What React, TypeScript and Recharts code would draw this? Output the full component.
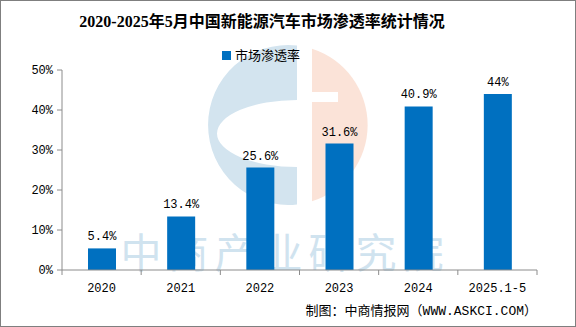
import React from 'react';
import { BarChart, Bar, XAxis, YAxis, Legend, LabelList } from 'recharts';

const categories = ['2020', '2021', '2022', '2023', '2024', '2025.1-5'];
const penetration = [5.4, 13.4, 25.6, 31.6, 40.9, 44];
const valueLabels = ['5.4%', '13.4%', '25.6%', '31.6%', '40.9%', '44%'];
const yTicks = [0, 10, 20, 30, 40, 50];

const data = categories.map((name, i) => ({
  name,
  value: penetration[i],
  label: valueLabels[i],
}));

const MONO = "'Liberation Mono', 'Noto Sans CJK SC', monospace";
const CJK = "'Noto Sans CJK SC', sans-serif";
const AXIS_COLOR = '#8c8c8c';
const BAR_COLOR = '#0070c0';

// category ticks sit between the bars, so draw the tick lines ourselves
const XTick = (props: any) => {
  const { x, y, payload, index, visibleTicksCount } = props;
  const half = payload && payload.offset ? payload.offset : 39.6;
  const axisY = y - 7;
  const last = index === (visibleTicksCount ?? categories.length) - 1;
  return (
    <g>
      <line x1={x - half} x2={x - half} y1={axisY} y2={axisY + 5} stroke={AXIS_COLOR} />
      {last && <line x1={x + half} x2={x + half} y1={axisY} y2={axisY + 5} stroke={AXIS_COLOR} />}
      <text x={x} y={axisY + 22} textAnchor='middle' fontSize={12} fontFamily={MONO} fill='#000'>
        {payload.value}
      </text>
    </g>
  );
};

const LegendBox = () => (
  <div style={{ display: 'flex', justifyContent: 'center', alignItems: 'center', height: 18 }}>
    <span style={{ width: 9, height: 9, background: BAR_COLOR, display: 'inline-block', marginRight: 4 }} />
    <span style={{ fontSize: 13, fontFamily: CJK, color: '#000', lineHeight: '18px' }}>市场渗透率</span>
  </div>
);

const Watermark = () => (
  <svg width={576} height={327} style={{ position: 'absolute', left: 0, top: 0 }}>
    <path d='M297,45.5 A80,80 0 1 0 297,204.5 L297,167 A80,33.5 0 0 1 297,100 Z' fill='#d3e4ef' />
    <path d='M312,48.8 A80,80 0 0 1 312,201.2 Z' fill='#fbe3d8' />
    <rect x={312} y={92} width={26} height={10} fill='#fff' />
    <text x={285} y={268} textAnchor='middle' fontSize={41} letterSpacing={6} fontFamily={CJK} fill='#d0e3ef'>
      中商产业研究院
    </text>
  </svg>
);

export default function App() {
  return (
    <div style={{ position: 'absolute', left: 0, top: 0, width: 576, height: 327, background: '#fff', overflow: 'hidden' }}>
      <Watermark />
      <div
        style={{
          position: 'absolute', top: 10, left: 0, width: 524, textAlign: 'center',
          fontSize: 16, fontWeight: 'bold', lineHeight: '24px', color: '#000',
          fontFamily: "'Liberation Serif', 'Noto Sans CJK SC', serif",
        }}
      >
        2020-2025年5月中国新能源汽车市场渗透率统计情况
      </div>
      <div style={{ position: 'absolute', left: 0, top: 0 }}>
        <BarChart width={576} height={327} data={data} margin={{ top: 52, right: 39, bottom: 27, left: 0 }}>
          <Legend verticalAlign='top' height={18} wrapperStyle={{ top: 46, left: 0, width: 522 }} content={<LegendBox />} />
          <XAxis
            dataKey='name'
            height={30}
            stroke={AXIS_COLOR}
            tickLine={false}
            tickSize={5}
            tickMargin={2}
            tick={<XTick />}
            interval={0}
          />
          <YAxis
            width={62}
            domain={[0, 50]}
            ticks={yTicks}
            tickFormatter={(v: number) => `${v}%`}
            stroke={AXIS_COLOR}
            tickSize={5}
            tickMargin={4}
            tick={{ fontSize: 12, fontFamily: MONO, fill: '#000' }}
          />
          <Bar dataKey='value' fill={BAR_COLOR} barSize={28} isAnimationActive={false}>
            <LabelList dataKey='label' position='top' offset={8} fontSize={12} fontFamily={MONO} fill='#000' />
          </Bar>
        </BarChart>
      </div>
      <div
        style={{
          position: 'absolute', right: 39, top: 302, fontSize: 13, lineHeight: '20px',
          fontFamily: MONO, color: '#000', whiteSpace: 'nowrap',
        }}
      >
        制图：中商情报网（WWW.ASKCI.COM）
      </div>
      <div style={{ position: 'absolute', inset: 0, border: '1px solid #7f7f7f', pointerEvents: 'none' }} />
    </div>
  );
}
